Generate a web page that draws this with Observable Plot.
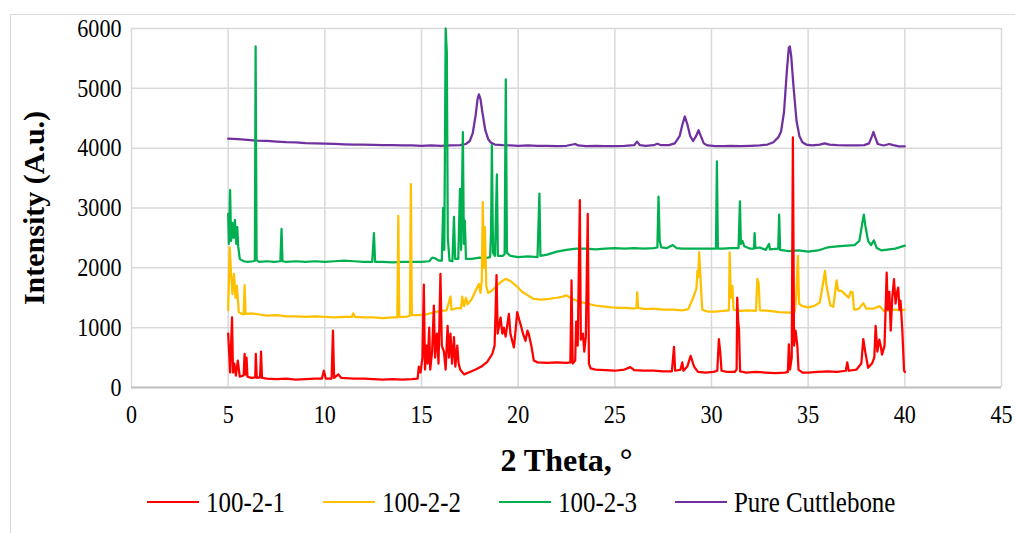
<!DOCTYPE html>
<html><head><meta charset="utf-8">
<script src="https://cdn.jsdelivr.net/npm/d3@7"></script>
<script src="https://cdn.jsdelivr.net/npm/@observablehq/plot@0.6"></script>
<style>
body{margin:0;background:#fff;font-family:"Liberation Serif",serif;}
#wrap{position:relative;width:1015px;height:533px;overflow:hidden;background:#fff;}
#frame{position:absolute;left:10px;top:14px;width:1100px;height:600px;border:1.5px solid #d9d9d9;box-sizing:border-box;}
#chart{position:absolute;left:0;top:0;}
.item{position:absolute;top:486px;height:32px;display:flex;align-items:center;font-family:"Liberation Serif",serif;font-size:29px;color:#000;white-space:nowrap;}
.item span{display:inline-block;transform:scaleX(0.86);transform-origin:left center;}
.sw{width:52px;height:2.5px;margin-right:7px;}
</style></head>
<body>
<div id="wrap"><div id="frame"></div><div id="chart"></div><div id="legend"></div></div>
<script>
const seriesNames = ["100-2-1", "100-2-2", "100-2-3", "Pure Cuttlebone"];
const seriesColors = ["#FF0000", "#FFC000", "#00B050", "#7030A0"];
const xTicks = [0, 5, 10, 15, 20, 25, 30, 35, 40, 45];
const yTicks = [0, 1000, 2000, 3000, 4000, 5000, 6000];
const xTitle = "2 Theta, °";
const yTitle = "Intensity (A.u.)";

// [2θ, intensity]
const s1 = [[5,900],[5.05,600],[5.1,250],[5.15,700],[5.2,1170],[5.25,250],[5.32,400],[5.4,200],[5.5,450],[5.6,180],[5.8,200],[5.85,560],[5.9,220],[5.95,500],[6.0,180],[6.2,160],[6.4,170],[6.43,560],[6.48,160],[6.65,170],[6.7,600],[6.75,160],[7,150],[7.5,140],[8,150],[8.5,130],[9,140],[9.5,150],[9.85,150],[9.95,280],[10.05,150],[10.35,150],[10.42,950],[10.48,160],[10.7,220],[10.85,160],[11.5,150],[12,150],[12.5,140],[13,130],[13.5,140],[14,130],[14.5,140],[14.8,150],[14.86,350],[14.95,250],[15.05,500],[15.12,1720],[15.18,300],[15.26,700],[15.32,400],[15.4,1000],[15.45,300],[15.55,600],[15.64,1370],[15.7,500],[15.8,900],[15.88,400],[15.98,1900],[16.05,700],[16.16,600],[16.25,300],[16.35,1030],[16.42,500],[16.5,900],[16.58,400],[16.68,840],[16.75,350],[16.85,700],[16.92,400],[17.0,300],[17.2,220],[17.5,260],[17.8,300],[18.1,350],[18.4,430],[18.66,560],[18.78,700],[18.83,1250],[18.88,1880],[18.94,900],[19.09,1170],[19.18,900],[19.26,1000],[19.35,850],[19.52,1230],[19.6,900],[19.78,670],[19.88,1000],[19.95,1260],[20.04,1150],[20.12,1060],[20.25,900],[20.38,780],[20.48,950],[20.55,890],[20.68,700],[20.81,450],[21,420],[21.5,410],[22,420],[22.5,410],[22.7,420],[22.76,1790],[22.82,400],[22.95,450],[23.0,1100],[23.08,700],[23.19,3130],[23.24,800],[23.35,900],[23.42,600],[23.5,850],[23.6,2900],[23.66,400],[23.75,320],[24,300],[24.5,290],[25,280],[25.5,300],[25.8,340],[26,290],[26.5,280],[27,280],[27.5,270],[27.95,270],[28.06,680],[28.12,280],[28.4,300],[28.49,420],[28.55,280],[28.75,350],[28.92,530],[29.1,350],[29.3,260],[29.7,250],[30.1,260],[30.3,280],[30.38,810],[30.45,600],[30.52,280],[30.8,260],[31.2,260],[31.3,300],[31.33,1500],[31.38,1100],[31.42,980],[31.48,270],[31.8,250],[32.3,260],[32.8,250],[33.3,240],[33.8,250],[33.95,260],[34.0,720],[34.06,300],[34.15,500],[34.21,4180],[34.27,700],[34.35,950],[34.44,700],[34.5,300],[34.7,250],[35,250],[35.5,260],[36,270],[36.5,260],[36.95,280],[37.02,420],[37.1,280],[37.5,300],[37.75,400],[37.85,810],[37.95,600],[38.1,330],[38.3,400],[38.42,500],[38.49,1030],[38.58,600],[38.68,800],[38.75,700],[38.82,550],[38.95,700],[39.06,1920],[39.12,1300],[39.2,1600],[39.27,950],[39.35,1500],[39.44,1810],[39.52,1400],[39.58,1570],[39.66,1670],[39.72,1300],[39.78,1450],[39.87,950],[39.96,280],[40,260]];

const s2 = [[5,1290],[5.08,2340],[5.15,1900],[5.22,1560],[5.3,1900],[5.38,1500],[5.45,1700],[5.55,1260],[5.7,1230],[5.8,1220],[5.85,1710],[5.9,1230],[6.2,1240],[6.6,1220],[7,1200],[7.5,1210],[8,1190],[8.5,1190],[9,1180],[9.5,1190],[10,1180],[10.5,1170],[11,1180],[11.4,1180],[11.47,1240],[11.55,1180],[12,1170],[12.5,1170],[13,1160],[13.5,1170],[13.75,1170],[13.8,2870],[13.85,1180],[14.2,1180],[14.4,1200],[14.45,3400],[14.5,1210],[14.8,1210],[15.2,1220],[15.6,1250],[16,1280],[16.3,1290],[16.5,1520],[16.55,1300],[16.9,1330],[17.05,1320],[17.1,1520],[17.2,1360],[17.3,1500],[17.38,1390],[17.6,1480],[17.8,1620],[17.97,1730],[18.05,1580],[18.12,1800],[18.17,3100],[18.22,2000],[18.28,2680],[18.35,1700],[18.45,1580],[18.65,1620],[18.9,1700],[19.1,1760],[19.35,1815],[19.6,1780],[19.9,1700],[20.2,1600],[20.5,1540],[20.8,1480],[21.2,1470],[21.6,1480],[22,1500],[22.3,1520],[22.5,1540],[22.8,1480],[23.2,1430],[23.6,1400],[24,1370],[24.5,1350],[24.8,1340],[25.2,1330],[25.6,1330],[26,1320],[26.12,1330],[26.16,1590],[26.2,1330],[26.6,1310],[27,1320],[27.5,1300],[28,1300],[28.5,1290],[28.8,1310],[29.05,1500],[29.22,1650],[29.27,1950],[29.32,1850],[29.36,2260],[29.42,1900],[29.52,1300],[29.8,1270],[30.2,1270],[30.6,1280],[30.9,1290],[30.94,2260],[31.0,1500],[31.08,1700],[31.14,1300],[31.5,1280],[31.9,1290],[32.3,1280],[32.37,1815],[32.44,1740],[32.5,1290],[33,1280],[33.5,1260],[34,1250],[34.3,1260],[34.38,1500],[34.47,2200],[34.53,1400],[34.7,1360],[35,1340],[35.3,1360],[35.6,1420],[35.75,1700],[35.87,1950],[35.95,1700],[36.15,1370],[36.3,1350],[36.47,1790],[36.55,1620],[36.7,1620],[36.9,1560],[37.1,1500],[37.2,1600],[37.3,1590],[37.37,1300],[37.6,1310],[37.85,1410],[38.0,1320],[38.4,1320],[38.7,1360],[38.9,1280],[39.2,1290],[39.5,1300],[39.8,1290],[40,1300]];

const s3 = [[5,2900],[5.04,2400],[5.1,3300],[5.15,2450],[5.22,2750],[5.28,2500],[5.35,2800],[5.42,2400],[5.47,2680],[5.52,2350],[5.6,2150],[5.8,2110],[6,2100],[6.3,2110],[6.38,2120],[6.42,5700],[6.47,2130],[6.6,2100],[7,2110],[7.4,2100],[7.7,2110],[7.76,2650],[7.81,2110],[8,2100],[8.5,2110],[9,2100],[9.5,2110],[10,2100],[10.5,2110],[11,2120],[11.5,2110],[12,2100],[12.45,2100],[12.54,2580],[12.6,2100],[13,2100],[13.5,2090],[14,2100],[14.5,2100],[15,2100],[15.4,2110],[15.55,2170],[15.7,2160],[15.9,2120],[16.05,2120],[16.12,3000],[16.18,2300],[16.25,6000],[16.31,5600],[16.36,2500],[16.45,2120],[16.6,2110],[16.68,2850],[16.74,2150],[16.9,2150],[16.99,3320],[17.05,2300],[17.14,4270],[17.19,2400],[17.24,2790],[17.3,2150],[17.6,2150],[18,2170],[18.3,2160],[18.55,2180],[18.6,2620],[18.64,4050],[18.7,2250],[18.8,2200],[18.9,3560],[18.95,2200],[19.2,2200],[19.3,2230],[19.36,5150],[19.42,2250],[19.6,2200],[20,2180],[20.5,2190],[21,2180],[21.1,3240],[21.15,2200],[21.5,2220],[22,2270],[22.5,2300],[23,2320],[23.5,2320],[24,2310],[24.5,2320],[25,2330],[25.5,2320],[26,2330],[26.5,2320],[27,2330],[27.2,2340],[27.26,3190],[27.32,2450],[27.4,2340],[27.7,2330],[28,2380],[28.2,2330],[28.5,2320],[29,2320],[29.5,2320],[30,2320],[30.23,2320],[30.28,3780],[30.33,2320],[30.6,2320],[31,2330],[31.4,2330],[31.47,3110],[31.52,2400],[31.6,2450],[31.7,2360],[32,2320],[32.2,2320],[32.23,2580],[32.27,2330],[32.5,2340],[32.8,2300],[32.98,2400],[33.02,2310],[33.45,2320],[33.5,2890],[33.55,2300],[34,2280],[34.5,2290],[35,2270],[35.5,2290],[36,2340],[36.5,2360],[37,2370],[37.4,2380],[37.65,2450],[37.8,2750],[37.88,2890],[37.96,2700],[38.1,2450],[38.25,2380],[38.4,2460],[38.55,2330],[38.8,2290],[39,2300],[39.5,2320],[40,2370]];

const s4 = [[5,4160],[5.5,4150],[6,4140],[6.5,4125],[7,4120],[7.5,4110],[8,4100],[8.5,4095],[9,4085],[9.5,4080],[10,4075],[10.5,4070],[11,4065],[11.5,4060],[12,4060],[12.5,4055],[13,4050],[13.5,4050],[14,4045],[14.5,4045],[15,4040],[15.5,4045],[16,4040],[16.5,4045],[17,4050],[17.3,4070],[17.5,4120],[17.65,4250],[17.8,4550],[17.9,4820],[17.97,4900],[18.05,4820],[18.15,4600],[18.3,4300],[18.45,4150],[18.6,4090],[18.8,4060],[19.2,4050],[19.6,4045],[20,4040],[20.5,4045],[21,4040],[21.5,4040],[22,4035],[22.5,4040],[22.95,4070],[23.1,4045],[23.5,4035],[24,4040],[24.5,4035],[25,4035],[25.5,4040],[26,4050],[26.15,4110],[26.3,4050],[26.6,4040],[27,4050],[27.2,4075],[27.4,4050],[27.8,4050],[28.1,4080],[28.35,4200],[28.5,4400],[28.62,4530],[28.75,4400],[28.9,4200],[29.05,4120],[29.2,4200],[29.33,4300],[29.45,4200],[29.6,4080],[29.8,4045],[30.2,4035],[30.6,4035],[31,4040],[31.5,4035],[32,4040],[32.5,4045],[32.9,4060],[33.2,4100],[33.45,4180],[33.6,4280],[33.75,4600],[33.9,5300],[34.0,5680],[34.05,5700],[34.12,5550],[34.25,5000],[34.4,4450],[34.55,4200],[34.7,4100],[34.9,4060],[35.2,4045],[35.6,4060],[35.85,4080],[36.1,4060],[36.5,4050],[37,4045],[37.5,4045],[37.9,4050],[38.15,4080],[38.3,4200],[38.38,4270],[38.47,4180],[38.6,4070],[38.9,4045],[39.2,4070],[39.4,4050],[39.7,4030],[40,4030]];

const seriesData = [s1, s2, s3, s4];
// draw order: purple first, red on top
const rows = [3, 2, 1, 0].flatMap(i => seriesData[i].map(([x, y]) => ({x, y, series: seriesNames[i]})));
const serif = "'Liberation Serif',serif";

const chart = Plot.plot({
  width: 1015, height: 480,
  marginLeft: 131, marginRight: 14, marginTop: 28, marginBottom: 93,
  style: {fontFamily: serif, fontSize: "26px", color: "#000", background: "transparent", overflow: "visible"},
  x: {domain: [0, 45], label: null},
  y: {domain: [0, 6000], label: null},
  color: {domain: seriesNames, range: seriesColors},
  marks: [
    Plot.gridX(xTicks, {stroke: "#d9d9d9", strokeOpacity: 1, strokeWidth: 1.5}),
    Plot.gridY(yTicks, {stroke: "#d9d9d9", strokeOpacity: 1, strokeWidth: 1.5}),
    Plot.ruleY([0], {stroke: "#bfbfbf", strokeWidth: 2}),
    Plot.axisX(xTicks, {tickSize: 0, tickPadding: 17, fontSize: 26, fontFamily: serif, fill: "#000", tickFormat: d => String(d)}),
    Plot.axisY(yTicks, {tickSize: 0, tickPadding: 10, fontSize: 26, fontFamily: serif, fill: "#000", tickFormat: d => String(d)}),
    Plot.line(rows, {x: "x", y: "y", z: "series", stroke: "series", strokeWidth: 2.25}),
    Plot.text([xTitle], {frameAnchor: "bottom", dy: 73, lineAnchor: "middle", textAnchor: "middle", fontSize: 32, fontFamily: serif, fontWeight: "bold", fill: "#000"}),
    Plot.text([yTitle], {frameAnchor: "left", dx: -97, rotate: -90, textAnchor: "middle", lineAnchor: "middle", fontSize: 30, fontFamily: serif, fontWeight: "bold", fill: "#000"})
  ]
});
document.getElementById("chart").appendChild(chart);

// narrow the tick label glyphs (reference text is tall and narrow)
chart.querySelectorAll('g[aria-label$="tick label"] text').forEach(t => {
  const w = t.getComputedTextLength();
  t.setAttribute("textLength", (w * 0.85).toFixed(1));
  t.setAttribute("lengthAdjust", "spacingAndGlyphs");
});

const legendX = [147, 323, 499, 675];
const legend = document.getElementById("legend");
seriesNames.forEach((n, i) => {
  const it = document.createElement("div");
  it.className = "item";
  it.style.left = legendX[i] + "px";
  const sw = document.createElement("div");
  sw.className = "sw";
  sw.style.background = seriesColors[i];
  const t = document.createElement("span");
  t.textContent = n;
  it.appendChild(sw); it.appendChild(t);
  legend.appendChild(it);
});
</script>
</body></html>
